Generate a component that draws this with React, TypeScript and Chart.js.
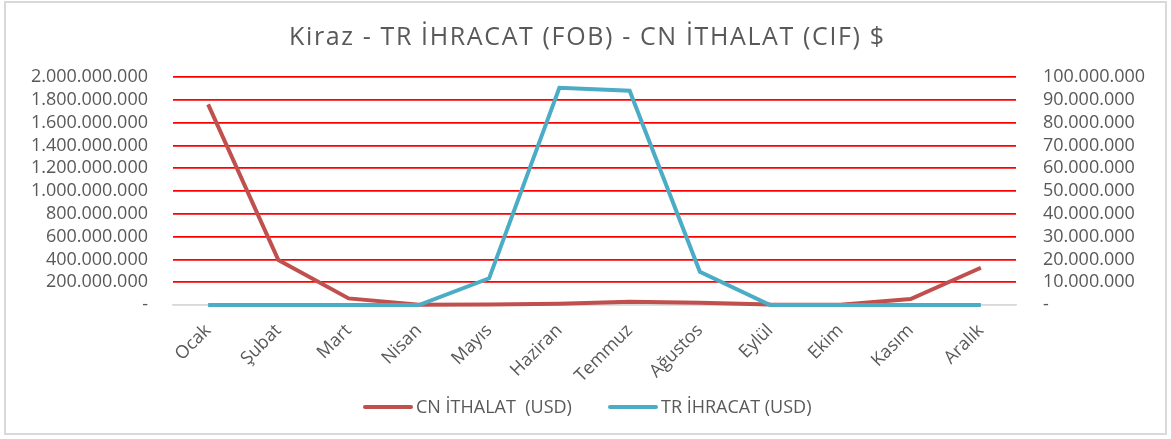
import React, { useEffect, useRef } from "react";
import { Chart, registerables } from "chart.js";

Chart.register(...registerables);

const TITLE = "Kiraz - TR İHRACAT (FOB) - CN İTHALAT (CIF) $";
const MONTHS = ["Ocak", "Şubat", "Mart", "Nisan", "Mayıs", "Haziran", "Temmuz", "Ağustos", "Eylül", "Ekim", "Kasım", "Aralık"];
const CN_LABEL = "CN İTHALAT  (USD)";
const TR_LABEL = "TR İHRACAT (USD)";
const CN_IMPORT = [1760000000, 395000000, 58000000, 3000000, 5000000, 12000000, 28000000, 20000000, 4000000, 2000000, 52000000, 327000000];
const TR_EXPORT = [0, 0, 0, 0, 11700000, 95300000, 94000000, 14600000, 0, 0, 0, 0];

const RED = "#c0504d";
const BLUE = "#4bacc6";
const TEXT = "#595959";
const FONT = "'Open Sans', 'Noto Sans', sans-serif";

function fmt(v: number): string {
  if (v === 0) return "-";
  return String(Math.round(v)).replace(/\B(?=(\d{3})+(?!\d))/g, ".");
}

function fitText(ctx: any, text: string, x: number, y: number, width: number) {
  ctx.letterSpacing = "0px";
  const w = ctx.measureText(text).width;
  const n = Array.from(text).length;
  const sp = Math.max(0, (width - w) / Math.max(1, n - 1));
  ctx.letterSpacing = `${sp}px`;
  ctx.textAlign = "left";
  ctx.fillText(text, x, y);
  ctx.letterSpacing = "0px";
}

const textPlugin = {
  id: "textPlugin",
  afterDraw(chart: any) {
    const ctx = chart.ctx;
    ctx.save();
    ctx.fillStyle = TEXT;
    ctx.font = `25px ${FONT}`;
    ctx.textBaseline = "alphabetic";
    fitText(ctx, TITLE, 289, 45, 595);

    const items = [
      { label: CN_LABEL, color: RED, x: 363 },
      { label: TR_LABEL, color: BLUE, x: 608 },
    ];
    ctx.font = `18px ${FONT}`;
    ctx.textAlign = "left";
    ctx.lineCap = "round";
    for (const it of items) {
      ctx.strokeStyle = it.color;
      ctx.lineWidth = 4;
      ctx.beginPath();
      ctx.moveTo(it.x + 2, 407);
      ctx.lineTo(it.x + 48, 407);
      ctx.stroke();
      ctx.fillText(it.label, it.x + 53, 413);
    }
    ctx.restore();
  },
};

export default function App() {
  const ref = useRef<HTMLCanvasElement>(null);
  useEffect(() => {
    if (!ref.current) return;
    const chart = new Chart(ref.current, {
      type: "line",
      data: {
        labels: MONTHS,
        datasets: [
          {
            label: CN_LABEL,
            data: CN_IMPORT,
            borderColor: RED,
            backgroundColor: RED,
            borderWidth: 4,
            pointRadius: 0,
            tension: 0,
            yAxisID: "y",
            order: 1,
            clip: false,
          },
          {
            label: TR_LABEL,
            data: TR_EXPORT,
            borderColor: BLUE,
            backgroundColor: BLUE,
            borderWidth: 4,
            pointRadius: 0,
            tension: 0,
            yAxisID: "y1",
            order: 0,
            clip: false,
          },
        ],
      },
      options: {
        responsive: false,
        animation: false,
        devicePixelRatio: 1,
        layout: { padding: { top: 77, bottom: 0, left: 0, right: 0 } },
        plugins: {
          legend: { display: false },
          title: { display: false },
          tooltip: { enabled: false },
        },
        scales: {
          x: {
            offset: true,
            grid: { display: false, drawTicks: false },
            border: { display: true, color: "#d9d9d9", width: 1.5 },
            ticks: {
              color: TEXT,
              font: { family: FONT, size: 18 },
              minRotation: 45,
              maxRotation: 45,
              autoSkip: false,
              padding: 15,
            },
            afterFit(scale: any) {
              scale.height = 134;
            },
          },
          y: {
            position: "left",
            min: 0,
            max: 2000000000,
            grid: {
              color: (c: any) => (c.tick && c.tick.value === 0 ? "#d9d9d9" : "#ff0000"),
              lineWidth: 1.7,
              drawTicks: false,
            },
            border: { display: false },
            ticks: {
              stepSize: 200000000,
              autoSkip: false,
              color: TEXT,
              font: { family: FONT, size: 18 },
              padding: 25,
              callback: (v: any) => fmt(Number(v)),
            },
            afterFit(scale: any) {
              scale.width = 173;
            },
          },
          y1: {
            position: "right",
            min: 0,
            max: 100000000,
            grid: { display: false, drawTicks: false },
            border: { display: false },
            ticks: {
              stepSize: 10000000,
              autoSkip: false,
              color: TEXT,
              font: { family: FONT, size: 18 },
              padding: 27,
              callback: (v: any) => fmt(Number(v)),
            },
            afterFit(scale: any) {
              scale.width = 155;
            },
          },
        },
      },
      plugins: [textPlugin],
    } as any);
    return () => chart.destroy();
  }, []);

  return (
    <div style={{ position: "absolute", left: 0, top: 0, width: 1171, height: 439, background: "#ffffff" }}>
      <canvas ref={ref} width={1171} height={439} style={{ position: "absolute", left: 0, top: 0, width: 1171, height: 439 }} />
      <div
        style={{
          position: "absolute",
          left: 4,
          top: 1,
          width: 1163,
          height: 434,
          boxSizing: "border-box",
          border: "2px solid #d9d9d9",
          pointerEvents: "none",
        }}
      />
    </div>
  );
}
